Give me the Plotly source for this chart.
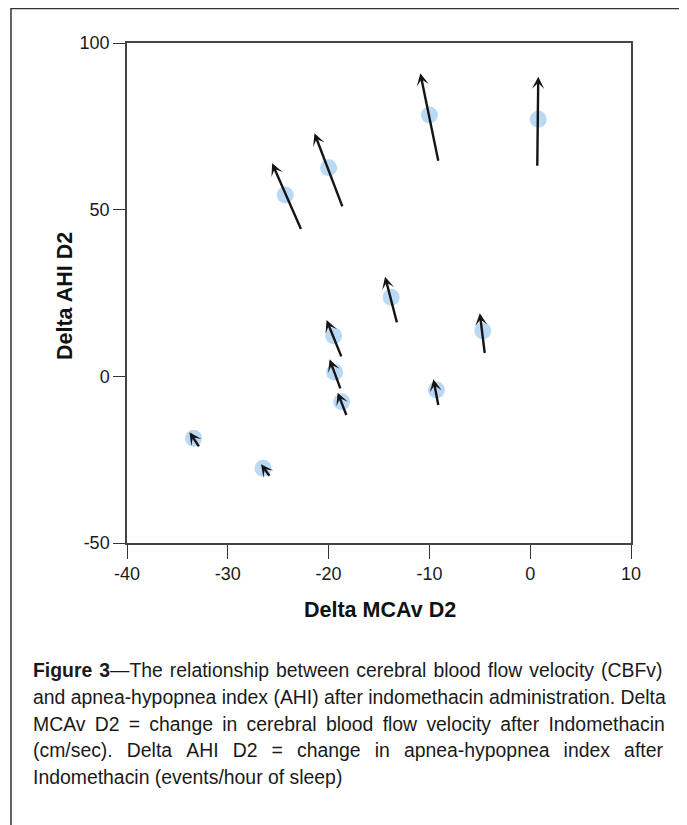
import plotly.graph_objects as go

# Data
dot_x = [-33.4, -26.5, -24.3, -20.0, -10.0, 0.8, -13.8, -4.7, -19.5, -19.4, -18.7, -9.3]
dot_y = [-18.6, -27.6, 54.4, 62.6, 78.4, 77.1, 23.7, 13.6, 12.2, 1.2, -7.6, -4.1]

tail_x = [-32.8, -25.8, -22.7, -18.6, -9.1, 0.7, -13.2, -4.5, -18.7, -18.8, -18.2, -9.1]
tail_y = [-21.3, -30.1, 43.9, 50.7, 64.4, 62.9, 15.9, 6.7, 5.7, -3.9, -11.9, -8.9]
head_x = [-33.8, -26.7, -25.6, -21.4, -10.9, 0.8, -14.4, -5.0, -20.2, -19.9, -19.1, -9.6]
head_y = [-16.8, -26.4, 63.9, 72.9, 90.9, 89.9, 29.9, 18.9, 16.9, 5.1, -4.9, -0.9]

x_ticks = [-40, -30, -20, -10, 0, 10]
x_tick_text = ["-40", "-30", "-20", "-10", "0", "10"]
y_ticks = [-50, 0, 50, 100]
y_tick_text = ["-50", "0", "50", "100"]

caption_lines = [
    "<b>Figure 3</b>\u2014The relationship between cerebral blood flow velocity (CBFv)",
    "and apnea-hypopnea index (AHI) after indomethacin administration. Delta",
    "MCAv D2 = change in cerebral blood flow velocity after Indomethacin",
    "(cm/sec). Delta AHI D2 = change in apnea-hypopnea index after",
    "Indomethacin (events/hour of sleep)",
]
# extra spacing used to imitate the justified paragraph
caption_gaps = [" \u200a", " ", " \u2009", " \u2005\u2009", " "]

FONT = "Liberation Sans, Arial, sans-serif"

fig = go.Figure()
fig.add_trace(go.Scatter(
    x=dot_x, y=dot_y, mode="markers",
    marker=dict(size=17, color="#b9d9f4", line=dict(width=0)),
    hoverinfo="skip", showlegend=False,
))

annotations = []
for tx, ty, hx, hy in zip(tail_x, tail_y, head_x, head_y):
    annotations.append(dict(
        x=hx, y=hy, ax=tx, ay=ty, xref="x", yref="y", axref="x", ayref="y",
        showarrow=True, arrowhead=3, arrowsize=0.85, arrowwidth=2.4,
        arrowcolor="#151515", text="", width=1, height=1, borderpad=0,
        font=dict(size=1),
    ))

annotations.append(dict(
    text="<b>Delta MCAv D2</b>", x=0.502, y=-0.134, xref="paper", yref="paper",
    showarrow=False, xanchor="center", yanchor="middle",
    font=dict(family=FONT, size=21.5, color="#111111"),
))
annotations.append(dict(
    text="<b>Delta AHI D2</b>", x=-0.123, y=0.494, xref="paper", yref="paper",
    showarrow=False, xanchor="center", yanchor="middle", textangle=-90,
    font=dict(family=FONT, size=21.5, color="#111111"),
))

cap_y = [-0.254, -0.308, -0.361, -0.414, -0.467]
for line, gap, yy in zip(caption_lines, caption_gaps, cap_y):
    annotations.append(dict(
        text=line.replace(" ", gap), x=-0.1905, y=yy, xref="paper", yref="paper",
        showarrow=False, xanchor="left", yanchor="middle", align="left",
        font=dict(family=FONT, size=19.4, color="#1a1a1a"),
    ))

fig.update_layout(
    width=679, height=817,
    margin=dict(l=119, r=56, t=35, b=282),
    paper_bgcolor="white", plot_bgcolor="white",
    showlegend=False,
    annotations=annotations,
    shapes=[dict(
        type="rect", xref="paper", yref="paper",
        x0=-0.2302, x1=1.0992, y0=-0.6, y1=1.069,
        line=dict(color="#333333", width=1.5), fillcolor="rgba(0,0,0,0)",
    )],
)
fig.update_xaxes(
    range=[-40, 10], tickvals=x_ticks, ticktext=x_tick_text, ticks="outside",
    ticklen=14, tickwidth=1.3,
    tickcolor="#333333", showline=True, linecolor="#444444", linewidth=1.5, mirror=True,
    showgrid=False, zeroline=False,
    tickfont=dict(family=FONT, size=18, color="#1a1a1a"),
)
fig.update_yaxes(
    range=[-50, 100], tickvals=y_ticks, ticktext=y_tick_text, ticks="outside",
    ticklen=12, tickwidth=1.3,
    tickcolor="#333333", showline=True, linecolor="#444444", linewidth=1.5, mirror=True,
    showgrid=False, zeroline=False,
    tickfont=dict(family=FONT, size=18, color="#1a1a1a"),
)

fig.write_html("out.html")
